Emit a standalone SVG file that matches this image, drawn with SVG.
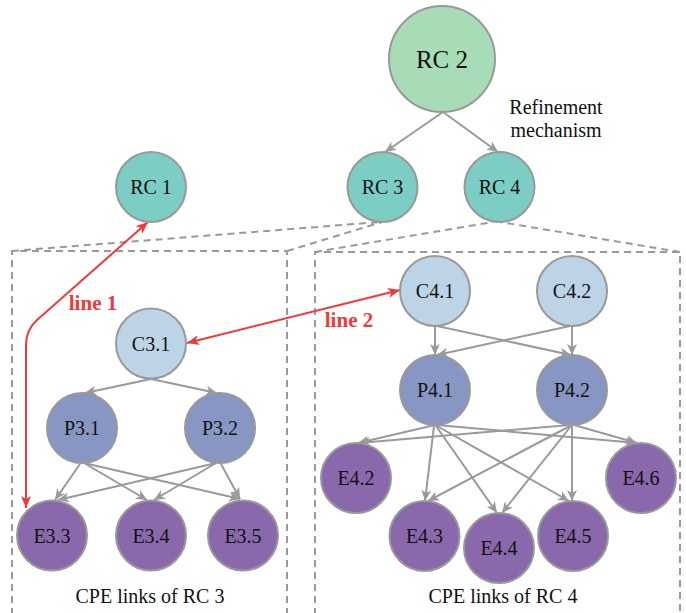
<svg xmlns="http://www.w3.org/2000/svg" width="686" height="613" viewBox="0 0 686 613">
<style>
.n{stroke:#999;stroke-width:2}
.rc{fill:#7ccdc4}
.c{fill:#bdd4e7}
.p{fill:#8896c4}
.e{fill:#8a68ac}
.ed{stroke:#9a9a9a;stroke-width:2;fill:none;marker-end:url(#ga)}
.dash{stroke:#999;stroke-width:2;fill:none;stroke-dasharray:7,5}
.red{stroke:#f03a3a;stroke-width:2;fill:none;marker-start:url(#ra);marker-end:url(#ra)}
</style>
<defs>
<marker id="ga" markerUnits="userSpaceOnUse" markerWidth="12" markerHeight="12" refX="11" refY="5" orient="auto-start-reverse" viewBox="0 0 12 10">
<path d="M0,0 L11,5 L0,10 L3,5 z" fill="#9a9a9a"/>
</marker>
<marker id="ra" markerUnits="userSpaceOnUse" markerWidth="13" markerHeight="12" refX="12" refY="5" orient="auto-start-reverse" viewBox="0 0 13 10">
<path d="M0,0 L12,5 L0,10 L3,5 z" fill="#f03a3a"/>
</marker>
</defs>

<g id="boxes">
<path class="dash" d="M12,615 L12,251 L287,251 L287,615"/>
<path class="dash" d="M315,615 L315,252 L680,252 L680,615"/>
<path class="dash" d="M12,251 L380,222"/>
<path class="dash" d="M287,251 L382,222"/>
<path class="dash" d="M315,252 L493,222"/>
<path class="dash" d="M680,252 L500,222"/>
</g>

<g id="connectors">
<path class="ed" d="M443,112 L385,152"/>
<path class="ed" d="M443,112 L498,152"/>
<path class="ed" d="M151,379 L85,393"/>
<path class="ed" d="M151,379 L217,393"/>
<path class="ed" d="M80,464 L55,500"/>
<path class="ed" d="M84,463 L147,500"/>
<path class="ed" d="M84,463 L240,499"/>
<path class="ed" d="M216,463 L58,500"/>
<path class="ed" d="M216,463 L154,500"/>
<path class="ed" d="M221,464 L240,499"/>
<path class="ed" d="M435,326 L435,355"/>
<path class="ed" d="M437,326 L571,355"/>
<path class="ed" d="M572,326 L572,355"/>
<path class="ed" d="M570,326 L437,355"/>
<path class="ed" d="M435,425 L358,443"/>
<path class="ed" d="M434,426 L425,501"/>
<path class="ed" d="M436,426 L497,513"/>
<path class="ed" d="M437,426 L569,501"/>
<path class="ed" d="M437,425 L637,443"/>
<path class="ed" d="M570,425 L359,443"/>
<path class="ed" d="M570,426 L428,501"/>
<path class="ed" d="M571,426 L502,513"/>
<path class="ed" d="M572,426 L572,501"/>
<path class="ed" d="M574,425 L637,443"/>
<path class="red" d="M148,222 L37,320 Q26,330 26,345 L26,508"/>
<path class="red" d="M400,290 L187,343"/>
<text x="93" y="310" font-family="Liberation Serif" font-size="21" font-weight="bold" fill="#f03a3a" text-anchor="middle">line 1</text>
<text x="349" y="327" font-family="Liberation Serif" font-size="21" font-weight="bold" fill="#f03a3a" text-anchor="middle">line 2</text>
</g>

<g font-family="Liberation Serif" font-size="20" fill="#111" text-anchor="middle">
<g id="RC2"><circle class="n" cx="442" cy="59" r="53" fill="#a8dcb6"/><text x="442" y="68" font-family="Liberation Serif" font-size="25">RC 2</text></g>
<text x="556" y="114" font-family="Liberation Serif">Refinement</text>
<text x="556" y="137" font-family="Liberation Serif">mechanism</text>
<g id="RC1"><circle class="n rc" cx="151" cy="187" r="35"/><text x="151" y="194" font-family="Liberation Serif">RC 1</text></g>
<g id="RC3"><circle class="n rc" cx="382.5" cy="187" r="35"/><text x="382.5" y="194" font-family="Liberation Serif">RC 3</text></g>
<g id="RC4"><circle class="n rc" cx="499.5" cy="187" r="35"/><text x="499.5" y="194" font-family="Liberation Serif">RC 4</text></g>

<g id="C3.1"><circle class="n c" cx="151" cy="343.5" r="35"/><text x="151" y="350.5" font-family="Liberation Serif">C3.1</text></g>
<g id="P3.1"><circle class="n p" cx="82" cy="428" r="35"/><text x="82" y="435" font-family="Liberation Serif">P3.1</text></g>
<g id="P3.2"><circle class="n p" cx="220" cy="428" r="35"/><text x="220" y="435" font-family="Liberation Serif">P3.2</text></g>
<g id="E3.3"><circle class="n e" cx="52" cy="535.5" r="35"/><text x="52" y="542.5" font-family="Liberation Serif">E3.3</text></g>
<g id="E3.4"><circle class="n e" cx="151" cy="535.5" r="35"/><text x="151" y="542.5" font-family="Liberation Serif">E3.4</text></g>
<g id="E3.5"><circle class="n e" cx="243" cy="535.5" r="35"/><text x="243" y="542.5" font-family="Liberation Serif">E3.5</text></g>
<text x="150" y="603" font-family="Liberation Serif">CPE links of RC 3</text>

<g id="C4.1"><circle class="n c" cx="435" cy="291" r="35"/><text x="435" y="298" font-family="Liberation Serif">C4.1</text></g>
<g id="C4.2"><circle class="n c" cx="572" cy="291" r="35"/><text x="572" y="298" font-family="Liberation Serif">C4.2</text></g>
<g id="P4.1"><circle class="n p" cx="435" cy="390" r="35"/><text x="435" y="397" font-family="Liberation Serif">P4.1</text></g>
<g id="P4.2"><circle class="n p" cx="572" cy="390" r="35"/><text x="572" y="397" font-family="Liberation Serif">P4.2</text></g>
<g id="E4.2"><circle class="n e" cx="356" cy="478" r="35"/><text x="356" y="485" font-family="Liberation Serif">E4.2</text></g>
<g id="E4.3"><circle class="n e" cx="424.5" cy="536" r="35"/><text x="424.5" y="543" font-family="Liberation Serif">E4.3</text></g>
<g id="E4.4"><circle class="n e" cx="499" cy="548" r="35"/><text x="499" y="555" font-family="Liberation Serif">E4.4</text></g>
<g id="E4.5"><circle class="n e" cx="573" cy="536" r="35"/><text x="573" y="543" font-family="Liberation Serif">E4.5</text></g>
<g id="E4.6"><circle class="n e" cx="641" cy="478" r="35"/><text x="641" y="485" font-family="Liberation Serif">E4.6</text></g>
<text x="503" y="603" font-family="Liberation Serif">CPE links of RC 4</text>
</g>
</svg>
